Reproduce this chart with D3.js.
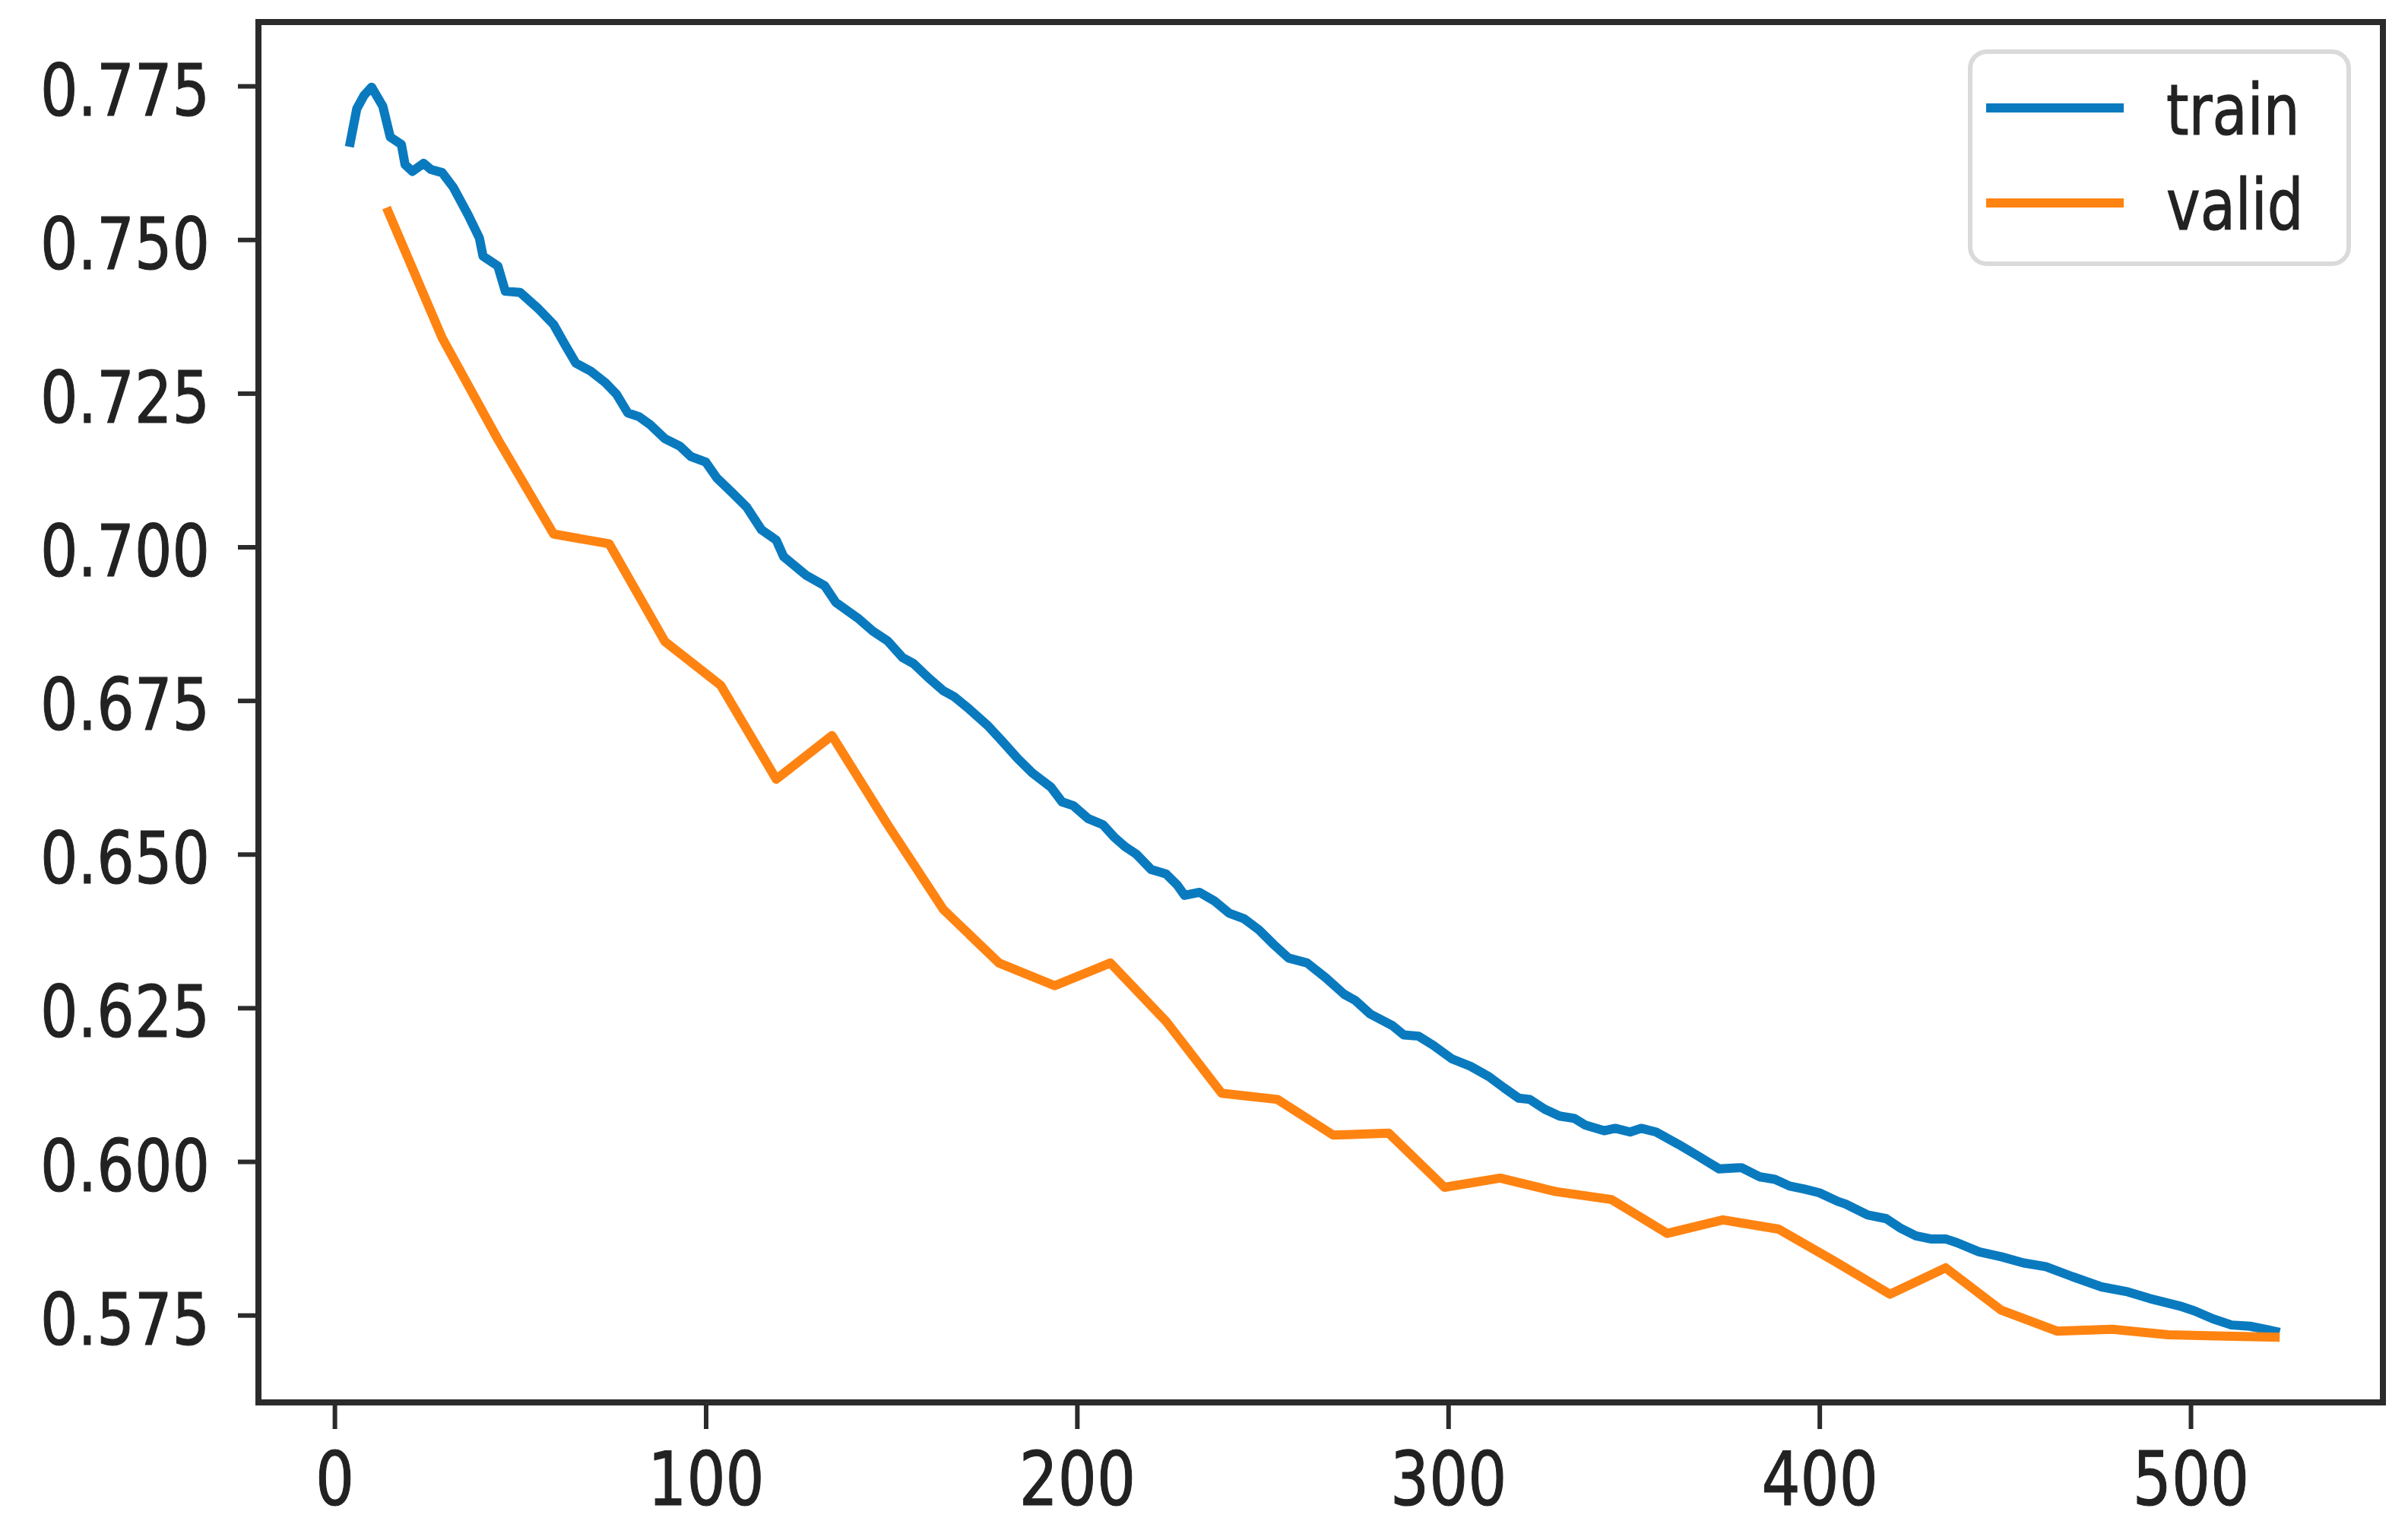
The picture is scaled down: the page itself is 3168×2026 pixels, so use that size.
<!DOCTYPE html>
<html>
<head>
<meta charset="utf-8">
<script src="https://cdn.jsdelivr.net/npm/d3@7"></script>
<style>
  html, body { margin: 0; padding: 0; background: #ffffff; }
  svg { display: block; }
</style>
</head>
<body>
<svg id="chart" width="3168" height="2026"></svg>
<script>
// ---------------- data ----------------
const trainEpochs = [4, 6, 8, 10, 13, 15, 18, 19, 21, 24, 26, 29, 32, 36, 39, 40, 44, 46, 50, 55, 59, 62, 65, 69, 73, 76, 79, 82, 85, 89, 93, 96, 100, 103, 107, 111, 115, 119, 121, 127, 132, 135, 141, 145, 149, 153, 156, 160, 164, 167, 171, 176, 180, 184, 188, 193, 196, 199, 203, 207, 210, 213, 216, 220, 224, 227, 229, 233, 237, 241, 245, 249, 253, 257, 262, 267, 272, 275, 279, 285, 288, 292, 296, 301, 306, 311, 315, 319, 322, 326, 330, 334, 337, 342, 345, 349, 352, 356, 362, 367, 370, 373, 379, 384, 388, 392, 396, 400, 405, 407, 413, 418, 422, 426, 430, 434, 437, 443, 449, 455, 461, 468, 476, 483, 489, 497, 501, 506, 511, 516, 521, 524];
const trainValues = [0.7651, 0.7713, 0.7735, 0.7748, 0.7717, 0.7667, 0.7655, 0.7622, 0.7611, 0.7624, 0.7614, 0.7609, 0.7585, 0.7540, 0.7503, 0.7473, 0.7457, 0.7416, 0.7414, 0.7387, 0.7362, 0.7330, 0.7299, 0.7286, 0.7267, 0.7248, 0.7218, 0.7212, 0.7199, 0.7176, 0.7164, 0.7147, 0.7138, 0.7112, 0.7089, 0.7065, 0.7028, 0.7011, 0.6984, 0.6954, 0.6937, 0.6910, 0.6884, 0.6863, 0.6847, 0.6820, 0.6810, 0.6787, 0.6766, 0.6756, 0.6736, 0.6709, 0.6683, 0.6656, 0.6632, 0.6609, 0.6585, 0.6579, 0.6558, 0.6548, 0.6528, 0.6512, 0.6500, 0.6475, 0.6468, 0.6450, 0.6433, 0.6438, 0.6424, 0.6404, 0.6395, 0.6377, 0.6353, 0.6331, 0.6323, 0.6299, 0.6272, 0.6262, 0.6240, 0.6221, 0.6206, 0.6204, 0.6189, 0.6167, 0.6155, 0.6138, 0.6120, 0.6103, 0.6101, 0.6085, 0.6074, 0.6070, 0.6059, 0.6050, 0.6054, 0.6048, 0.6054, 0.6048, 0.6028, 0.6010, 0.5999, 0.5988, 0.5990, 0.5975, 0.5971, 0.5960, 0.5955, 0.5949, 0.5935, 0.5931, 0.5913, 0.5907, 0.5891, 0.5879, 0.5874, 0.5874, 0.5868, 0.5853, 0.5845, 0.5835, 0.5829, 0.5813, 0.5796, 0.5788, 0.5777, 0.5765, 0.5757, 0.5744, 0.5734, 0.5732, 0.5726, 0.5722];

const validEpochs = [14, 29, 44, 59, 74, 89, 104, 119, 134, 149, 164, 179, 194, 209, 224, 239, 254, 269, 284, 299, 314, 329, 344, 359, 374, 389, 404, 419, 434, 449, 464, 479, 494, 509, 524];
const validValues = [0.7552, 0.7340, 0.7175, 0.7021, 0.7005, 0.6846, 0.6775, 0.6622, 0.6693, 0.6548, 0.6410, 0.6323, 0.6286, 0.6323, 0.6228, 0.6111, 0.6101, 0.6043, 0.6046, 0.5958, 0.5973, 0.5951, 0.5938, 0.5883, 0.5905, 0.5890, 0.5838, 0.5784, 0.5827, 0.5758, 0.5724, 0.5727, 0.5718, 0.5716, 0.5714];

const xTicks = [0, 100, 200, 300, 400, 500];
const yTicks = [0.575, 0.600, 0.625, 0.650, 0.675, 0.700, 0.725, 0.750, 0.775];
const seriesNames = ["train", "valid"];
const seriesColors = ["#0a7abf", "#ff8311"];

// ---------------- layout / style ----------------
const W = 3168, H = 2026;
const plot = { left: 340, top: 29, right: 3135, bottom: 1845 };
const FONT = "'DejaVu Sans', 'Liberation Sans', sans-serif";
const SX = 0.82;          // horizontal squeeze of the reference's text
const INK = "#222222";
const SPINE = "#2b2b2b";

const x = d3.scaleLinear().domain([-20.5, 551.8]).range([plot.left, plot.right]);
const y = d3.scaleLinear().domain([0.5608, 0.7854]).range([plot.bottom, plot.top]);

const svg = d3.select("#chart");
svg.append("rect").attr("width", W).attr("height", H).attr("fill", "#ffffff");

// ---------------- lines ----------------
const line = d3.line().x(d => x(d[0])).y(d => y(d[1])).curve(d3.curveLinear);
const series = [
  trainEpochs.map((e, i) => [e, trainValues[i]]),
  validEpochs.map((e, i) => [e, validValues[i]])
];
svg.append("g").selectAll("path")
  .data(series)
  .join("path")
  .attr("d", line)
  .attr("fill", "none")
  .attr("stroke", (d, i) => seriesColors[i])
  .attr("stroke-width", 12)
  .attr("stroke-linejoin", "round")
  .attr("stroke-linecap", "butt");

// ---------------- axes ----------------
const yAxis = d3.axisLeft(y).tickValues(yTicks).tickSize(27).tickFormat(d3.format(".3f"));
const gy = svg.append("g")
  .attr("transform", `translate(${plot.left},0)`)
  .call(yAxis);
gy.attr("font-size", null).attr("font-family", null);
gy.select(".domain").remove();
gy.selectAll(".tick line").attr("stroke", SPINE).attr("stroke-width", 6);
gy.selectAll(".tick text")
  .attr("x", 0).attr("dy", 0)
  .attr("text-anchor", "end")
  .attr("fill", INK)
  .attr("stroke", INK).attr("stroke-width", 1.2)
  .attr("font-size", 95)
  .attr("font-family", FONT)
  .attr("transform", `translate(-64,38) scale(${SX},1)`);

const xAxis = d3.axisBottom(x).tickValues(xTicks).tickSize(35).tickFormat(d3.format("d"));
const gx = svg.append("g")
  .attr("transform", `translate(0,${plot.bottom})`)
  .call(xAxis);
gx.attr("font-size", null).attr("font-family", null);
gx.select(".domain").remove();
gx.selectAll(".tick line").attr("stroke", SPINE).attr("stroke-width", 6);
gx.selectAll(".tick text")
  .attr("y", 0).attr("dy", 0)
  .attr("text-anchor", "middle")
  .attr("fill", INK)
  .attr("stroke", INK).attr("stroke-width", 1.2)
  .attr("font-size", 98)
  .attr("font-family", FONT)
  .attr("transform", `translate(0,135) scale(${SX},1)`);

// ---------------- frame (spines) ----------------
svg.append("rect")
  .attr("x", plot.left).attr("y", plot.top)
  .attr("width", plot.right - plot.left)
  .attr("height", plot.bottom - plot.top)
  .attr("fill", "none")
  .attr("stroke", SPINE)
  .attr("stroke-width", 8);

// ---------------- legend ----------------
const legend = svg.append("g");
legend.append("rect")
  .attr("x", 2592).attr("y", 68).attr("width", 498).attr("height", 279)
  .attr("rx", 22).attr("ry", 22)
  .attr("fill", "#ffffff").attr("fill-opacity", 0.9)
  .attr("stroke", "#dadada").attr("stroke-width", 6);
const items = legend.selectAll("g.item")
  .data(seriesNames)
  .join("g")
  .attr("class", "item")
  .attr("transform", (d, i) => `translate(0,${142 + i * 125})`);
items.append("line")
  .attr("x1", 2613).attr("x2", 2794).attr("y1", 0).attr("y2", 0)
  .attr("stroke", (d, i) => seriesColors[i])
  .attr("stroke-width", 12);
items.append("text")
  .attr("transform", `translate(2850,35) scale(${SX},1)`)
  .attr("fill", INK)
  .attr("stroke", INK).attr("stroke-width", 1.2)
  .attr("font-size", 92)
  .attr("font-family", FONT)
  .text(d => d);
</script>
</body>
</html>
